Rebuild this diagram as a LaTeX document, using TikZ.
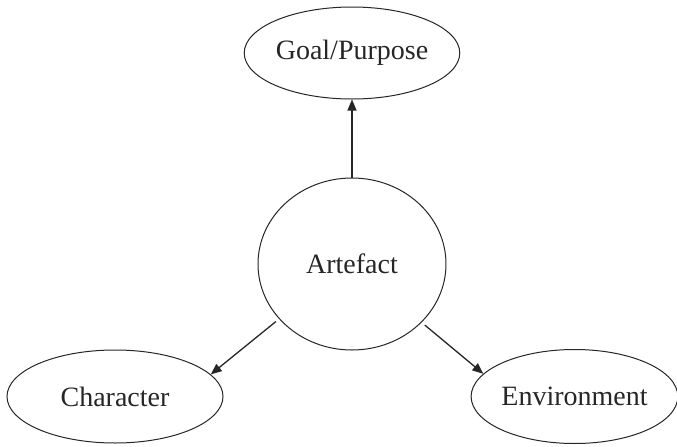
\documentclass[tikz,border=0pt]{standalone}
\usepackage{fontspec}
\setmainfont{Liberation Serif}
\usetikzlibrary{shapes.geometric,arrows.meta}
\colorlet{lnx}{black!85}
\tikzset{
    oval/.style={ellipse,draw=lnx,line width=0.5pt,inner sep=0pt,font=\fontsize{14}{16}\selectfont,text=black!85},
    link/.style={lnx,line width=0.65pt,-{Triangle[length=5.5pt,width=4.5pt]}}
}
\begin{document}
\begin{tikzpicture}[x=0.5pt,y=-0.5pt]
            \useasboundingbox (0,0) rectangle (677,446);
            \node [oval,minimum width=105pt,minimum height=46pt] (goal) at (352,53) {Goal/Purpose};
            \node [oval,minimum width=94pt,minimum height=86pt] (art) at (352,264) {Artefact};
            \node [oval,minimum width=108pt,minimum height=46.5pt] (char) at (115,396.5) {Character};
            \node [oval,minimum width=102.5pt,minimum height=47pt] (env) at (574.5,396.5) {Environment};
            \draw [link] (art.north) -- (goal.south);
            \draw [link,shorten <=2pt] (art.217) -- (char.13);
            \draw [link,shorten <=2pt] (art.-40.5) -- (env.166);
        \end{tikzpicture}
\end{document}
